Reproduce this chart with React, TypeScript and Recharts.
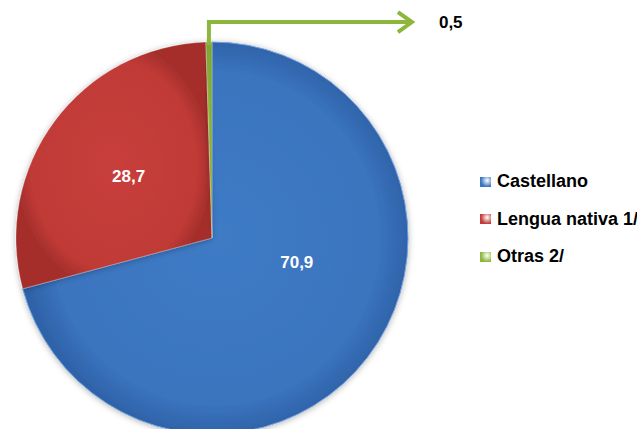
import React from 'react';
import { PieChart, Pie, Cell, Legend } from 'recharts';

const categories = ['Castellano', 'Lengua nativa 1/', 'Otras 2/'];
const values = [70.9, 28.7, 0.5];
const valueLabels = ['70,9', '28,7', '0,5'];

const COLORS = ['#3b74bf', '#c23b37', '#8db63c'];
const GRADS = ['gBlue', 'gRed', 'gGreen'];

const data = categories.map((name, i) => ({ name, value: values[i], label: valueLabels[i] }));

const RAD = Math.PI / 180;
const FONT = 'Liberation Sans, Arial, sans-serif';

const renderLabel = (props: any) => {
  const { cx, cy, midAngle, outerRadius, index } = props;
  const label = valueLabels[index];
  if (index === 2) {
    // callout arrow going up from the thin slice and then to the right
    const x0 = cx + outerRadius * Math.cos(-midAngle * RAD);
    const y0 = cy + outerRadius * Math.sin(-midAngle * RAD);
    const yTop = y0 - 20;
    const xEnd = x0 + 203;
    return (
      <g>
        <polyline
          points={`${x0},${y0 + 3} ${x0},${yTop} ${xEnd},${yTop}`}
          fill="none"
          stroke="#8db63c"
          strokeWidth={4}
        />
        <polyline
          points={`${xEnd - 14},${yTop - 10} ${xEnd},${yTop} ${xEnd - 14},${yTop + 10}`}
          fill="none"
          stroke="#8db63c"
          strokeWidth={4}
        />
        <text x={xEnd + 27} y={yTop} dy={6} fill="#000" fontSize={17} fontWeight="bold" fontFamily={FONT}>
          {label}
        </text>
      </g>
    );
  }
  // inner labels
  const r = index === 0 ? outerRadius * 0.45 : outerRadius * 0.53;
  const ang = index === 0 ? -16 : midAngle;
  const x = cx + r * Math.cos(-ang * RAD);
  const y = cy + r * Math.sin(-ang * RAD);
  return (
    <text x={x} y={y} dy={6} textAnchor="middle" fill="#fff" fontSize={17} fontWeight="bold" fontFamily={FONT}>
      {label}
    </text>
  );
};

const renderLegend = () => (
  <div style={{ fontFamily: FONT, fontWeight: 'bold', fontSize: 18, color: '#000', whiteSpace: 'nowrap' }}>
    {categories.map((c, i) => (
      <div key={c} style={{ display: 'flex', alignItems: 'center', height: 37.5 }}>
        <span
          style={{
            display: 'inline-block',
            width: 11,
            height: 10,
            marginRight: 6,
            background: `radial-gradient(circle at 65% 35%, #ffffffaa, ${COLORS[i]} 65%)`,
          }}
        />
        <span>{c}</span>
      </div>
    ))}
  </div>
);

export default function App() {
  return (
    <div style={{ position: 'fixed', left: 0, top: 0, width: 637, height: 429, background: '#fff', overflow: 'hidden' }}>
      <PieChart width={637} height={429} margin={{ top: 0, right: 0, bottom: 0, left: 0 }}>
        <defs>
          <radialGradient id="gBlue" cx="50%" cy="50%" r="50%">
            <stop offset="0%" stopColor="#3f7bc6" />
            <stop offset="85%" stopColor="#3a74be" />
            <stop offset="100%" stopColor="#2f63a9" />
          </radialGradient>
          <radialGradient id="gRed" cx="50%" cy="50%" r="50%">
            <stop offset="0%" stopColor="#c83f3b" />
            <stop offset="85%" stopColor="#c03a36" />
            <stop offset="100%" stopColor="#a52f2c" />
          </radialGradient>
          <radialGradient id="gGreen" cx="50%" cy="50%" r="50%">
            <stop offset="0%" stopColor="#93bc44" />
            <stop offset="100%" stopColor="#7fa535" />
          </radialGradient>
          <filter id="shadow" x="-10%" y="-10%" width="120%" height="120%">
            <feDropShadow dx="0" dy="1" stdDeviation="3" floodColor="#000" floodOpacity="0.3" />
          </filter>
        </defs>
        <Pie
          data={data}
          dataKey="value"
          nameKey="name"
          cx={212}
          cy={238}
          outerRadius={196}
          startAngle={90}
          endAngle={-270}
          label={renderLabel}
          labelLine={false}
          isAnimationActive={false}
          stroke="#6a9ad6"
          strokeWidth={1}
        >
          {data.map((d, i) => (
            <Cell key={d.name} fill={`url(#${GRADS[i]})`} stroke={i === 0 ? '#6fa2de' : 'rgba(255,255,255,0.25)'} filter="url(#shadow)" />
          ))}
        </Pie>
        <Legend
          layout="vertical"
          align="right"
          verticalAlign="top"
          content={renderLegend}
          wrapperStyle={{ left: 480, top: 163, width: 170 }}
        />
      </PieChart>
    </div>
  );
}
